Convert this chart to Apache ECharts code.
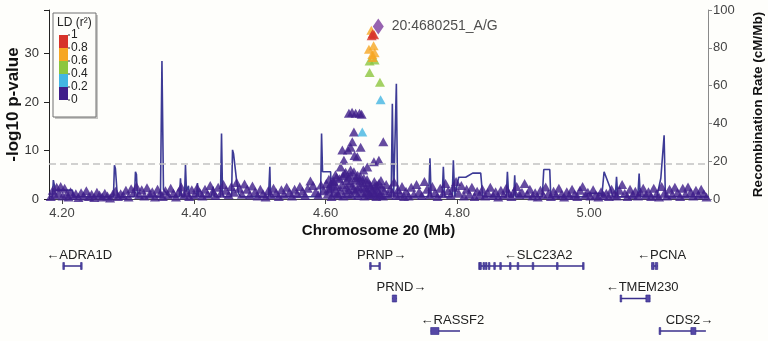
<!DOCTYPE html>
<html>
<head>
<meta charset="utf-8">
<script src="https://cdn.jsdelivr.net/npm/echarts@6/dist/echarts.min.js"></script>
<style>
html, body { margin: 0; padding: 0; background: #fefefb; }
#chart { width: 768px; height: 341px; }
</style>
</head>
<body>
<div id="chart"></div>
<script>
// axis window (Mb) and ticks
var xMin = 4.1803, xMax = 5.1803;
var xTicks = [4.2, 4.4, 4.6, 4.8, 5.0];
var pTicks = [0, 10, 20, 30];
var pTickMarks = [0, 10, 20, 30, 39];
var sigLine = 7.3;

// LD legend
var ldColors = ['#3f1e8a', '#43b5e2', '#8cc63f', '#f6a623', '#d7332a'];
var ldTicks = ['0', '0.2', '0.4', '0.6', '0.8', '1'];

// lead SNP
var leadName = '20:4680251_A/G';
var leadSnp = [4.6800, 35.6];

// SNPs in LD with lead: [pos, -log10 p, r2]
var ldSnps = [
  [4.6557, 13.8, 0.3], [4.6835, 20.5, 0.3], [4.6825, 24.1, 0.45], [4.6668, 26.1, 0.5],
  [4.6668, 28.5, 0.5], [4.6744, 28.7, 0.55], [4.6714, 29.2, 0.62], [4.6709, 29.8, 0.65],
  [4.6744, 30.2, 0.7], [4.6658, 30.9, 0.7], [4.6729, 31.6, 0.7], [4.6694, 34.8, 0.7],
  [4.6737, 33.9, 0.85], [4.6699, 33.7, 0.9], [4.6714, 34.1, 0.9]
];

// SNPs with r2 < 0.2: [pos, -log10 p]
var snpsLeft = [
  [4.183,0.5],[4.186,1.8],[4.189,0.9],[4.192,2.4],[4.195,1.2],[4.198,2.6],[4.201,0.6],[4.204,2.2],
  [4.207,1.0],[4.210,0.4],[4.213,1.5],[4.217,0.7],[4.221,1.1],[4.225,0.3],[4.229,1.3],[4.233,0.6],
  [4.237,1.7],[4.241,0.5],[4.245,1.0],[4.249,0.3],[4.253,1.4],[4.257,0.8],[4.261,0.4],[4.265,1.2],
  [4.269,0.6],[4.273,0.2],[4.277,1.0],[4.281,1.6],[4.285,0.5],[4.289,1.1],[4.293,0.7],[4.297,1.8],
  [4.301,0.4],[4.305,2.1],[4.309,1.3],[4.313,2.6],[4.317,0.9],[4.321,1.9],[4.325,0.6],[4.329,2.3],
  [4.333,1.0],[4.337,1.5],[4.341,0.4],[4.345,2.0],[4.349,1.1],[4.353,0.5],[4.357,1.7],[4.361,0.8],
  [4.365,2.2],[4.369,1.2],[4.373,0.4],[4.377,1.5],[4.381,2.5],[4.385,0.8],[4.389,1.3],[4.393,0.5],
  [4.397,1.9],[4.401,0.9],[4.405,2.3],[4.409,1.4],[4.413,0.6],[4.417,2.0],[4.421,1.0],[4.425,2.8],
  [4.429,1.6],[4.433,0.7],[4.437,2.4],[4.441,1.2],[4.445,3.0],[4.449,1.8],[4.453,0.9],[4.457,2.6],
  [4.461,1.4],[4.465,3.4],[4.469,2.2],[4.473,1.0],[4.477,3.1],[4.481,2.0],[4.485,0.8],[4.489,2.7],
  [4.493,1.5],[4.497,0.6],[4.501,2.0],[4.505,1.1],[4.509,0.4],[4.513,1.7],[4.517,0.9],[4.521,2.2],
  [4.525,1.3],[4.529,0.5],[4.533,1.9],[4.537,1.0],[4.541,2.4],[4.545,1.4],[4.549,0.6],[4.553,2.0],
  [4.557,1.1],[4.561,2.6],[4.565,1.6],[4.569,0.7],[4.573,2.2],[4.577,3.7],[4.581,2.8],[4.585,1.5],
  [4.589,0.8],[4.593,2.9],[4.597,1.7]
];
var snpsPeak = [
  [4.6354,17.7],[4.6402,17.9],[4.6456,17.7],[4.6516,17.7],[4.6547,17.5],[4.6430,13.8],[4.6876,11.8],
  [4.6405,11.8],[4.6380,10.7],[4.6532,10.7],[4.6254,10.1],[4.6339,10.1],[4.6440,9.0],[4.6481,8.7],
  [4.6809,8.0],[4.6733,7.7],[4.6278,8.0],[4.6633,6.6],[4.6573,6.0],[4.6228,6.6],[4.6380,6.0],
  [4.6304,5.5],[4.6486,4.9],[4.6167,4.5],[4.6122,3.7],[4.6076,3.1],
  [4.601,3.2],[4.603,1.0],[4.605,4.1],[4.607,2.2],[4.609,0.5],[4.611,3.6],[4.613,1.4],[4.615,5.0],
  [4.617,2.6],[4.619,0.8],[4.621,4.2],[4.623,1.8],[4.625,3.0],[4.627,0.6],[4.629,5.2],[4.631,2.4],
  [4.633,1.1],[4.635,4.5],[4.637,3.3],[4.639,0.9],[4.641,2.8],[4.643,5.6],[4.645,1.6],[4.647,3.9],
  [4.649,0.7],[4.651,2.5],[4.653,4.6],[4.655,1.3],[4.657,3.4],[4.659,0.6],[4.661,2.2],[4.663,4.0],
  [4.665,1.5],[4.667,3.0],[4.669,0.8],[4.671,2.0],[4.673,1.2],[4.675,2.7],[4.677,0.5],[4.679,1.8],
  [4.681,3.2],[4.683,1.0],[4.685,2.4],[4.687,0.6],[4.689,1.7],[4.692,3.0],[4.695,0.9],[4.698,2.1],
  [4.701,1.3],[4.704,3.5],[4.707,0.7],[4.710,1.9],[4.713,1.0],[4.716,2.6],[4.719,0.5],
  [4.604,2.0],[4.612,2.8],[4.618,1.2],[4.626,4.8],[4.632,3.8],[4.634,1.9],[4.638,4.9],[4.642,2.0],
  [4.646,4.4],[4.648,2.1],[4.652,3.7],[4.656,2.5],[4.658,4.3],[4.662,1.6],[4.664,3.3],[4.666,0.9],
  [4.668,2.4],[4.674,3.6],[4.676,1.4],[4.678,2.9],[4.682,0.8],[4.684,3.8]
];
var snpsRight = [
  [4.722,1.6],[4.726,0.6],[4.730,2.4],[4.734,1.0],[4.738,3.0],[4.742,1.5],[4.746,0.7],[4.750,3.6],
  [4.754,2.0],[4.758,0.9],[4.762,2.6],[4.766,1.3],[4.770,0.5],[4.774,2.2],[4.778,1.1],[4.782,3.2],
  [4.786,1.7],[4.790,0.8],[4.794,2.4],[4.798,3.6],[4.802,1.2],[4.806,2.8],[4.810,0.6],[4.814,2.0],
  [4.818,1.0],[4.822,2.4],[4.826,0.5],[4.830,1.6],[4.834,0.9],[4.838,2.0],[4.842,0.6],[4.846,1.3],
  [4.850,2.4],[4.854,0.7],[4.858,1.5],[4.862,0.4],[4.866,1.8],[4.870,0.8],[4.874,2.2],[4.878,1.2],
  [4.882,0.5],[4.886,1.6],[4.890,2.6],[4.894,0.9],[4.898,1.4],[4.902,3.2],[4.906,1.0],[4.910,2.0],
  [4.914,0.6],[4.918,1.3],[4.922,0.4],[4.926,1.8],[4.930,0.9],[4.934,2.5],[4.938,1.1],[4.942,0.5],
  [4.946,1.6],[4.950,0.8],[4.954,2.2],[4.958,1.0],[4.962,0.4],[4.966,1.5],[4.970,0.7],[4.974,2.0],
  [4.978,1.0],[4.982,0.5],[4.986,1.8],[4.990,2.6],[4.994,0.8],[4.998,1.4],[5.002,0.6],[5.006,1.9],
  [5.010,0.9],[5.014,0.4],[5.018,1.5],[5.022,0.7],[5.026,1.2],[5.030,0.5],[5.034,2.0],[5.038,1.0],
  [5.042,0.6],[5.046,1.8],[5.050,3.0],[5.054,1.2],[5.058,0.5],[5.062,2.0],[5.066,0.9],[5.070,1.6],
  [5.074,0.6],[5.078,1.4],[5.082,2.2],[5.086,0.8],[5.090,1.5],[5.094,0.5],[5.098,2.2],[5.102,1.0],
  [5.106,0.4],[5.110,2.6],[5.114,1.2],[5.118,0.6],[5.122,2.0],[5.126,0.9],[5.130,2.4],[5.134,1.3],
  [5.138,0.5],[5.142,2.2],[5.146,1.0],[5.150,2.5],[5.154,1.4],[5.158,0.6],[5.162,1.8],[5.166,0.8],
  [5.170,2.0],[5.174,1.1],[5.178,0.4]
];

// recombination rate (cM/Mb): [pos, rate]
var recomb = [
  [4.1809,1.2],[4.1855,1.2],[4.1869,10],[4.1885,9],[4.1900,4.7],[4.2158,4.7],[4.2173,1.2],
  [4.2781,1.2],[4.2796,17.9],[4.2811,16],[4.2826,16],[4.2841,1.2],
  [4.3100,1.2],[4.3115,14.4],[4.3130,13],[4.3145,1.2],
  [4.3494,1.2],[4.3517,73],[4.3540,5],[4.3585,3],[4.3631,1.2],
  [4.3783,1.2],[4.3798,11],[4.3813,1.2],[4.3859,1.2],[4.3874,18],[4.3889,4],[4.3919,7],[4.3935,1.2],
  [4.4041,1.2],[4.4056,8.5],[4.4071,1.2],[4.4269,1.2],[4.4292,6.5],[4.4314,1.2],
  [4.4405,1.2],[4.4421,34.6],[4.4436,3],[4.4451,1.2],
  [4.4573,1.2],[4.4588,26],[4.4603,24],[4.4649,10],[4.4679,3],[4.4709,1.2],
  [4.5134,1.2],[4.5154,17],[4.5165,1.2],
  [4.5924,1.2],[4.5939,34.6],[4.5954,14.4],[4.6076,14.4],[4.6091,1.2],
  [4.6995,1.2],[4.7013,50.4],[4.7033,1.2],[4.7055,1.2],[4.7074,61],[4.7093,1.2],
  [4.7564,1.2],[4.7584,21.5],[4.7602,1.2],[4.7769,1.2],[4.7787,17],[4.7807,1.2],
  [4.7921,1.2],[4.7939,20.5],[4.7959,1.2],[4.7974,1.2],[4.8020,11.5],[4.8126,11.5],
  [4.8232,13.7],[4.8354,13.7],[4.8384,1.2],
  [4.8741,1.2],[4.8759,14.4],[4.8779,1.2],[4.8855,1.2],[4.8870,12.6],[4.8885,1.2],
  [4.9288,1.2],[4.9311,15.6],[4.9402,15.6],[4.9417,1.2],
  [4.9964,1.2],[4.9979,3],[5.0176,3],[5.0191,1.2],
  [5.0207,1.2],[5.0226,14.4],[5.0328,5],[5.0358,1.2],[5.0396,1.2],[5.0415,11.7],[5.0434,1.2],
  [5.0738,1.2],[5.0758,13.5],[5.0776,1.2],
  [5.1027,1.2],[5.1087,11],[5.1137,33.7],[5.1156,1.2],[5.1816,1.2]
];

// gene track
var geneNames = ['ADRA1D', 'PRNP', 'PRND', 'SLC23A2', 'PCNA', 'TMEM230', 'RASSF2', 'CDS2'];
var geneStart = [4.2013, 4.6668, 4.7012, 4.8330, 5.0946, 5.0469, 4.7595, 5.1061];
var geneEnd = [4.2297, 4.6822, 4.7078, 4.9909, 5.1040, 5.0925, 4.8040, 5.1771];
var geneStrand = ['-', '+', '+', '-', '-', '-', '-', '+'];
var geneRow = [0, 0, 1, 0, 0, 1, 2, 2];
var geneExons = [
  [[4.2013, 4.2028], [4.2282, 4.2297]],
  [[4.6668, 4.6680], [4.6808, 4.6822]],
  [[4.7012, 4.7078]],
  [[4.8323, 4.8333], [4.8340, 4.8350], [4.8388, 4.8394], [4.8425, 4.8431], [4.8470, 4.8476],
   [4.8552, 4.8558], [4.8643, 4.8649], [4.8790, 4.8805], [4.8907, 4.8913], [4.9135, 4.9141],
   [4.9504, 4.9510], [4.9899, 4.9909]],
  [[5.0946, 5.0985], [5.1003, 5.1040]],
  [[5.0469, 5.0478], [5.0860, 5.0925]],
  [[4.7595, 4.7720]],
  [[5.1061, 5.1070], [5.1543, 5.1619]]
];

var FONT = '"Liberation Sans", Arial, Helvetica, sans-serif';
var labelShift = 7;

function ldColor(r2) {
  return ldColors[Math.min(4, Math.floor(r2 / 0.2))];
}

var lowData = snpsLeft.concat(snpsPeak, snpsRight);
var ldData = ldSnps.map(function (s) {
  return { value: [s[0], s[1]], itemStyle: { color: ldColor(s[2]) } };
});

// legend box (drawn as graphic, on top of the plot)
var barX = 59, barTop = 35, segH = 13;
var legendChildren = [{
  type: 'rect', shape: { x: 55, y: 15, width: 43, height: 104 },
  style: { fill: 'rgba(0,0,0,0.22)' }
}, {
  type: 'rect', shape: { x: 53, y: 13, width: 43, height: 104 },
  style: { fill: '#fdfdfa', stroke: '#707070', lineWidth: 1 }
}, {
  type: 'text', x: 57, y: 23,
  style: { text: 'LD (r\u00B2)', font: '12px ' + FONT, fill: '#222', verticalAlign: 'middle' }
}];
for (var k = 0; k < ldColors.length; k++) {
  legendChildren.push({
    type: 'rect',
    shape: { x: barX, y: barTop + (ldColors.length - 1 - k) * segH, width: 9, height: segH },
    style: { fill: ldColors[k] }
  });
}
for (var t = 0; t < ldTicks.length; t++) {
  var ty = barTop + (ldTicks.length - 1 - t) * segH;
  legendChildren.push({
    type: 'line', shape: { x1: barX + 9, y1: ty, x2: barX + 11, y2: ty },
    style: { stroke: '#333', lineWidth: 1 }
  });
  legendChildren.push({
    type: 'text', x: barX + 12, y: ty,
    style: { text: ldTicks[t], font: '12px ' + FONT, fill: '#222', verticalAlign: 'middle' }
  });
}

function renderGene(params, api) {
  var i = params.dataIndex;
  var row = geneRow[i];
  var p0 = api.coord([geneStart[i], row]);
  var p1 = api.coord([geneEnd[i], row]);
  var y = p0[1];
  var kids = [{
    type: 'line', shape: { x1: p0[0], y1: y, x2: p1[0], y2: y },
    style: { stroke: '#3a2f8c', lineWidth: 1.5 }
  }];
  geneExons[i].forEach(function (e) {
    var a = api.coord([e[0], row])[0];
    var b = api.coord([e[1], row])[0];
    kids.push({
      type: 'rect', shape: { x: a, y: y - 3.5, width: Math.max(b - a, 1.6), height: 7 },
      style: { fill: '#5548a6', stroke: '#2f2686', lineWidth: 0.6 }
    });
  });
  var txt = geneStrand[i] === '-' ? '\u2190' + geneNames[i] : geneNames[i] + '\u2192';
  kids.push({
    type: 'text', x: (p0[0] + p1[0]) / 2 + labelShift, y: y - 11,
    style: { text: txt, font: '13px ' + FONT, fill: '#222', align: 'center', verticalAlign: 'middle' }
  });
  return { type: 'group', children: kids };
}

var option = {
  backgroundColor: '#fefefb',
  animation: false,
  textStyle: { fontFamily: FONT },
  grid: [
    { left: 49, right: 60, top: 10, bottom: 142, outerBoundsMode: 'none' },
    { left: 49, right: 60, top: 266, height: 65, outerBoundsMode: 'none' }
  ],
  xAxis: [{
    type: 'value', gridIndex: 0, min: xMin, max: xMax,
    axisLine: { onZero: false, lineStyle: { color: '#444' } },
    axisTick: { customValues: xTicks, length: 5, lineStyle: { color: '#444' } },
    axisLabel: { customValues: xTicks, formatter: function (v) { return v.toFixed(2); },
      fontSize: 13, color: '#444', margin: 8 },
    splitLine: { show: false },
    name: 'Chromosome 20 (Mb)', nameLocation: 'middle', nameGap: 24, nameMoveOverlap: false,
    nameTextStyle: { fontWeight: 'bold', fontSize: 15, color: '#111' }
  }, {
    type: 'value', gridIndex: 1, min: xMin, max: xMax, show: false
  }],
  yAxis: [{
    type: 'value', gridIndex: 0, min: 0, max: 39,
    axisLine: { show: true, lineStyle: { color: '#222' } },
    axisTick: { show: true, customValues: pTickMarks, length: 5, lineStyle: { color: '#222' } },
    axisLabel: { customValues: pTicks, fontSize: 13, color: '#333', margin: 10 },
    splitLine: { show: false },
    name: '-log10 p-value', nameLocation: 'middle', nameGap: 27, nameRotate: 90, nameMoveOverlap: false,
    nameTextStyle: { fontWeight: 'bold', fontSize: 17, color: '#111' }
  }, {
    type: 'value', gridIndex: 0, position: 'right', min: 0, max: 100, interval: 20,
    axisLine: { show: true, lineStyle: { color: '#8a8a8a' } },
    axisTick: { show: true, length: 4, lineStyle: { color: '#8a8a8a' } },
    axisLabel: { fontSize: 13, color: '#444', margin: 5 },
    splitLine: { show: false },
    name: 'Recombination Rate (cM/Mb)', nameLocation: 'middle', nameGap: 43, nameRotate: 90,
    nameMoveOverlap: false,
    nameTextStyle: { fontWeight: 'bold', fontSize: 13.5, color: '#111' }
  }, {
    type: 'value', gridIndex: 1, min: 0, max: 2, inverse: true, show: false
  }],
  graphic: [{ type: 'group', z: 100, children: legendChildren }],
  series: [{
    type: 'line', xAxisIndex: 0, yAxisIndex: 1, data: recomb,
    showSymbol: false, symbol: 'none', z: 2,
    lineStyle: { color: '#3d3b96', width: 1.6 }
  }, {
    type: 'scatter', xAxisIndex: 0, yAxisIndex: 0, data: lowData,
    symbol: 'triangle', symbolSize: [10, 9], z: 3,
    itemStyle: { color: ldColors[0] },
    markLine: {
      silent: true, symbol: ['none', 'none'], label: { show: false },
      lineStyle: { color: '#c2c2c2', type: [7, 4], width: 1.5 },
      data: [{ yAxis: sigLine }]
    }
  }, {
    type: 'scatter', xAxisIndex: 0, yAxisIndex: 0, data: ldData,
    symbol: 'triangle', symbolSize: [10, 9], z: 4
  }, {
    type: 'scatter', xAxisIndex: 0, yAxisIndex: 0, data: [leadSnp],
    symbol: 'diamond', symbolSize: [11, 16], z: 5,
    itemStyle: { color: '#7d3c9e' },
    label: { show: true, position: 'right', distance: 8, formatter: leadName,
      fontSize: 14, color: '#222', fontFamily: FONT }
  }, {
    type: 'custom', xAxisIndex: 1, yAxisIndex: 2, clip: false,
    data: geneNames.map(function (n, i) { return [geneStart[i], geneRow[i]]; }),
    renderItem: renderGene
  }]
};

var chart = echarts.init(document.getElementById('chart'));
chart.setOption(option);
</script>
</body>
</html>
